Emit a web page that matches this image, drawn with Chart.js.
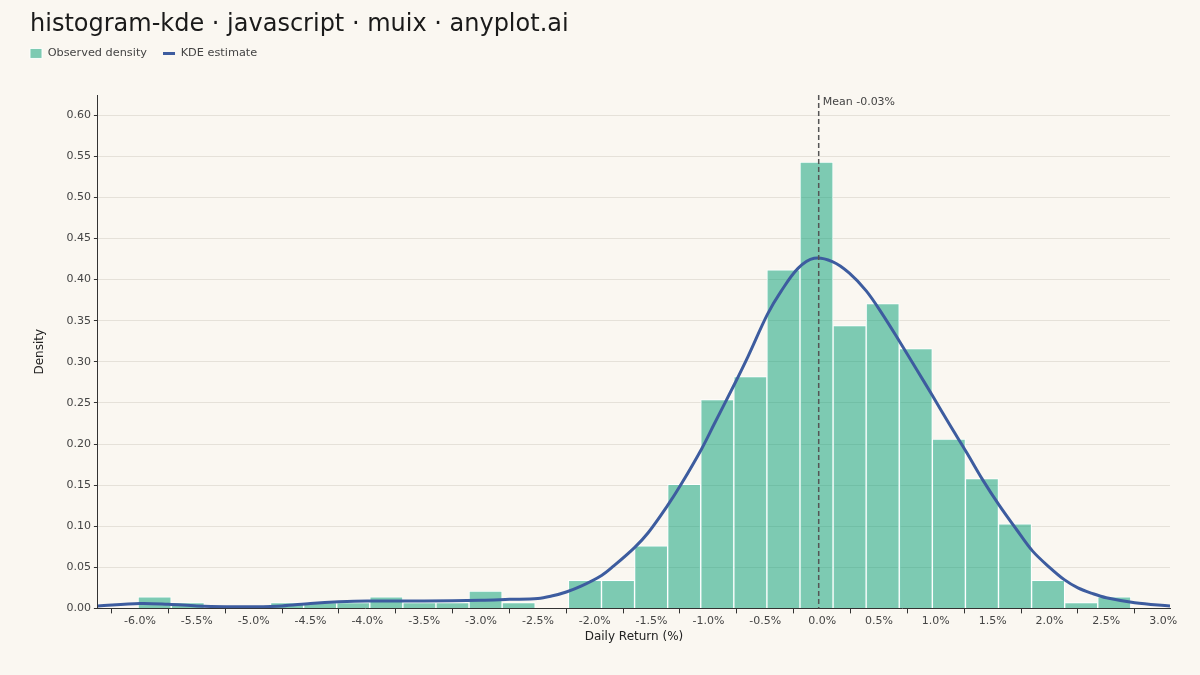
<!DOCTYPE html>
<html>
<head>
<meta charset="utf-8">
<script src="https://cdn.jsdelivr.net/npm/chart.js@4"></script>
<style>
  html, body { margin: 0; padding: 0; background: #faf7f1; }
  #wrap { width: 1200px; height: 675px; }
</style>
</head>
<body>
<div id="wrap"><canvas id="chart"></canvas></div>
<script>
// histogram bins: centre of each bin (daily return, %) and observed density
const binCenters = [-5.871, -5.579, -5.288, -4.997, -4.706, -4.415, -4.124, -3.833, -3.542, -3.251,
  -2.960, -2.669, -2.377, -2.086, -1.795, -1.504, -1.213, -0.922, -0.631, -0.340,
  -0.049, 0.242, 0.533, 0.824, 1.115, 1.406, 1.697, 1.988, 2.279, 2.570]
const binDensity = [0.014, 0.007, 0, 0, 0.007, 0.007, 0.007, 0.014, 0.007, 0.007,
  0.021, 0.007, 0, 0.034, 0.034, 0.076, 0.151, 0.254, 0.282, 0.412,
  0.543, 0.344, 0.371, 0.316, 0.206, 0.158, 0.103, 0.034, 0.007, 0.014]

// KDE curve
const kdeX = [-6.37, -6.0, -5.75, -5.5, -5.25, -5.0, -4.75, -4.5, -4.25, -4.0, -3.5, -3.0, -2.75,
  -2.5, -2.38, -2.25, -2.12, -1.94, -1.83, -1.65, -1.53, -1.36, -1.24, -1.06, -0.95, -0.77, -0.65,
  -0.48, -0.36, -0.21, -0.07, 0.09, 0.24, 0.39, 0.53, 0.68, 0.83, 0.97, 1.12, 1.27, 1.41,
  1.56, 1.71, 1.85, 2.0, 2.13, 2.25, 2.38, 2.5, 2.75, 3.06]
const kdeY = [0.003, 0.006, 0.005, 0.003, 0.002, 0.002, 0.003, 0.006, 0.008, 0.009, 0.009, 0.010, 0.011,
  0.012, 0.015, 0.020, 0.027, 0.040, 0.052, 0.074, 0.092, 0.125, 0.151, 0.194, 0.224, 0.273, 0.307,
  0.358, 0.386, 0.414, 0.426, 0.422, 0.408, 0.386, 0.358, 0.325, 0.291, 0.259, 0.224, 0.190, 0.157,
  0.125, 0.096, 0.070, 0.050, 0.035, 0.025, 0.018, 0.013, 0.007, 0.003]

const meanReturn = -0.03
const xMin = -6.37, xMax = 3.06
const yMax = 0.6245

const font = "'DejaVu Sans', sans-serif"
const legendPad = 16

const meanLine = {
  id: 'meanLine',
  afterDatasetsDraw(chart) {
    const { ctx, chartArea, scales } = chart
    const x = scales.x.getPixelForValue(meanReturn)
    ctx.save()
    ctx.strokeStyle = '#555'
    ctx.lineWidth = 1.5
    ctx.setLineDash([5, 3])
    ctx.beginPath()
    ctx.moveTo(x, chartArea.top)
    ctx.lineTo(x, chartArea.bottom)
    ctx.stroke()
    ctx.setLineDash([])
    ctx.fillStyle = '#444'
    ctx.font = "11px " + font
    ctx.textBaseline = 'middle'
    ctx.fillText('Mean ' + meanReturn.toFixed(2) + '%', x + 4, chartArea.top + 7)
    ctx.restore()
  }
}

// move the legend up under the title and flush with its left edge
const legendPlace = {
  id: 'legendPlace',
  afterLayout(chart) {
    chart.legend.left -= legendPad
    chart.legend.top -= 26
  }
}

const background = {
  id: 'background',
  beforeDraw(chart) {
    const ctx = chart.ctx
    ctx.save()
    ctx.fillStyle = '#faf7f1'
    ctx.fillRect(0, 0, chart.width, chart.height)
    ctx.restore()
  }
}

window.addEventListener('load', e => {
  const ctx = document.querySelector('#chart').getContext('2d')
  new Chart(ctx, {
    data: {
      datasets: [
        {
          type: 'line',
          label: 'KDE estimate',
          data: kdeX.map((x, i) => ({ x: x, y: kdeY[i] })),
          borderColor: '#3d5c9f',
          backgroundColor: '#3d5c9f',
          borderWidth: 3,
          pointRadius: 0,
          tension: 0.35,
          pointStyle: 'line',
          order: 1
        },
        {
          type: 'bar',
          label: 'Observed density',
          data: binCenters.map((x, i) => ({ x: x, y: binDensity[i] })),
          backgroundColor: 'rgba(0, 158, 115, 0.5)',
          borderColor: 'rgba(255, 255, 255, 0.9)',
          borderWidth: 1,
          borderSkipped: 'start',
          barPercentage: 1,
          categoryPercentage: 1,
          pointStyle: 'rect',
          order: 2
        }
      ]
    },
    options: {
      responsive: true,
      maintainAspectRatio: false,
      animation: false,
      layout: { padding: { left: 30, right: 30, top: 10, bottom: 31 } },
      plugins: {
        title: {
          display: true,
          text: 'histogram-kde · javascript · muix · anyplot.ai',
          align: 'start',
          color: '#1a1a1a',
          font: { family: font, size: 24, weight: 'normal' },
          padding: { top: 0, bottom: 19 }
        },
        legend: {
          align: 'start',
          reverse: true,
          labels: {
            usePointStyle: true,
            pointStyleWidth: 12,
            boxHeight: 10,
            color: '#444',
            font: { family: font, size: 11.3 },
            padding: legendPad
          }
        },
        tooltip: { enabled: false }
      },
      scales: {
        x: {
          type: 'linear',
          min: xMin,
          max: xMax,
          offset: false,
          afterBuildTicks: s => {
            s.ticks = []
            for (let v = -6; v <= 3.001; v += 0.5) s.ticks.push({ value: Math.round(v * 10) / 10 })
          },
          ticks: {
            color: '#444',
            font: { family: font, size: 11 },
            maxRotation: 0,
            padding: 1,
            callback: v => v.toFixed(1) + '%'
          },
          grid: { drawOnChartArea: false, drawTicks: true, tickLength: 5, tickColor: '#333' },
          border: { display: true, color: '#333', width: 1 },
          title: {
            display: true,
            text: 'Daily Return (%)',
            color: '#222',
            font: { family: font, size: 12 },
            padding: { top: 1, bottom: 0 }
          }
        },
        y: {
          min: 0,
          max: yMax,
          afterBuildTicks: s => {
            s.ticks = []
            for (let i = 0; i <= 12; i++) s.ticks.push({ value: i * 0.05 })
          },
          ticks: {
            color: '#444',
            font: { family: font, size: 11 },
            padding: 3,
            callback: v => v.toFixed(2)
          },
          grid: { color: '#e5e1d9', tickLength: 4, tickColor: '#333' },
          border: { display: true, color: '#333', width: 1 },
          title: {
            display: true,
            text: 'Density',
            color: '#222',
            font: { family: font, size: 12 },
            padding: { top: 3, bottom: 16 }
          }
        }
      }
    },
    plugins: [background, meanLine, legendPlace]
  })
})
</script>
</body>
</html>
